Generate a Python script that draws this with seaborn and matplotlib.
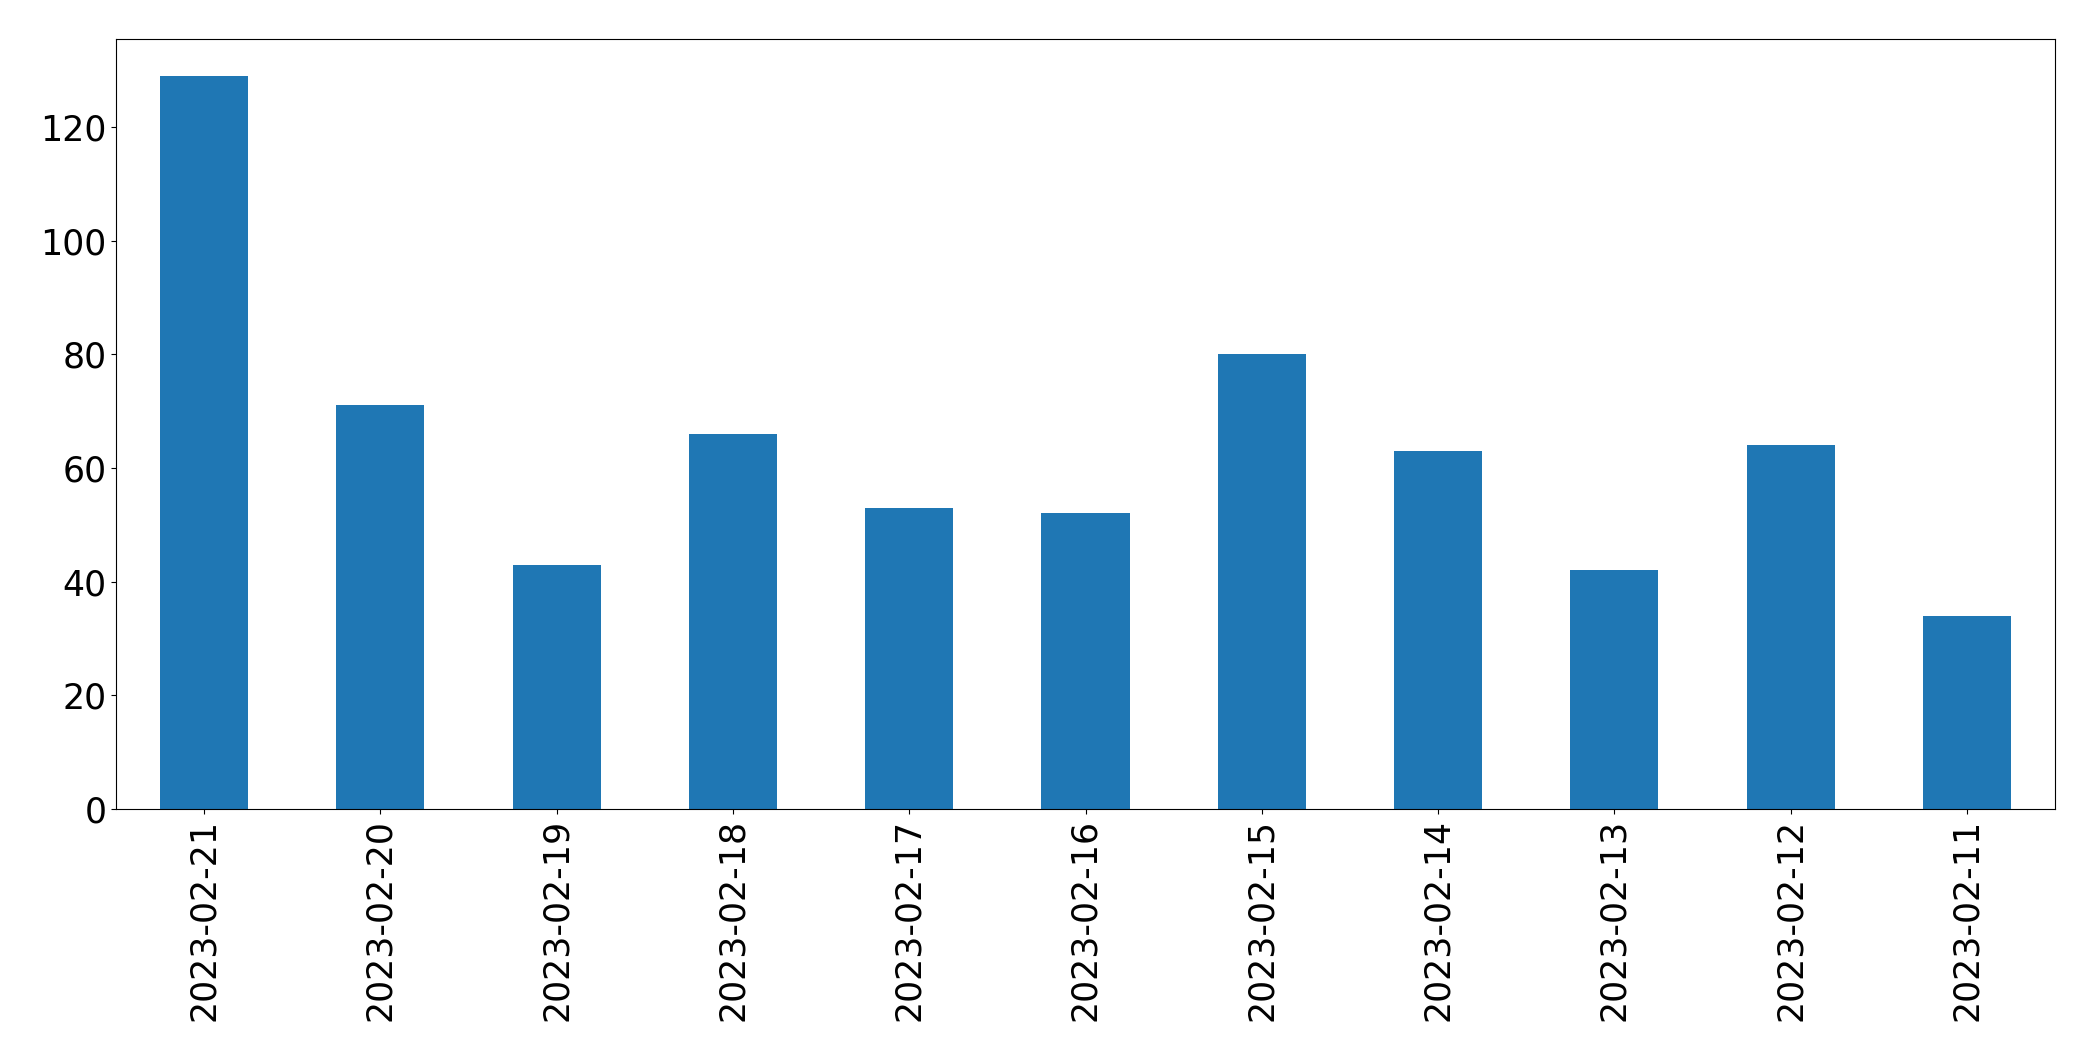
import matplotlib
matplotlib.use("Agg")
import matplotlib.pyplot as plt
import seaborn as sns
import pandas as pd

dates = ["2023-02-21", "2023-02-20", "2023-02-19", "2023-02-18", "2023-02-17",
         "2023-02-16", "2023-02-15", "2023-02-14", "2023-02-13", "2023-02-12",
         "2023-02-11"]
counts = [129, 71, 43, 66, 53, 52, 80, 63, 42, 64, 34]

df = pd.DataFrame({"date": dates, "count": counts})

fig = plt.figure(figsize=(20.93, 10.61), dpi=100)
ax = fig.add_axes([116 / 2093, 1 - 809 / 1061, (2055 - 116) / 2093, (809 - 39) / 1061])
sns.barplot(data=df, x="date", y="count", order=dates, color="#1f77b4",
            saturation=1, width=0.5, linewidth=0, ax=ax)
ax.set_xlim(-0.5, len(dates) - 0.5)
ax.set_ylim(0, max(counts) * 1.05)
ax.set_xlabel("")
ax.set_ylabel("")
ax.tick_params(axis="both", labelsize=25)
ax.tick_params(axis="x", labelrotation=90)
for s in ax.spines.values():
    s.set_visible(True)
    s.set_color("black")
fig.savefig("out.png", dpi=100)
